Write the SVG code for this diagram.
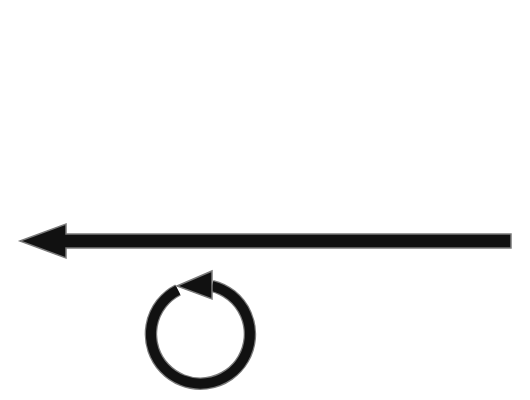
<svg xmlns="http://www.w3.org/2000/svg" width="530" height="400" viewBox="0 0 530 400">
<style>
.shape{fill:#111;stroke:#7a7a7a;stroke-width:1.5;stroke-linejoin:miter}
</style>
<rect width="530" height="400" fill="#fff"/>
<g id="connectors">
<g id="straight-arrow">
<polygon class="shape" points="20,241 66,224 66,234 511,234 511,248 66,248 66,258"/>
</g>
<g id="circular-arrow">
<path d="M212,286 A49.5,49.5 0 1 1 178,290" fill="none" stroke="#7a7a7a" stroke-width="12.5"/>
<path d="M212,286 A49.5,49.5 0 1 1 178,290" fill="none" stroke="#111" stroke-width="10"/>
<polygon class="shape" points="177,286 212,271 212,299"/>
</g>
</g>
</svg>
